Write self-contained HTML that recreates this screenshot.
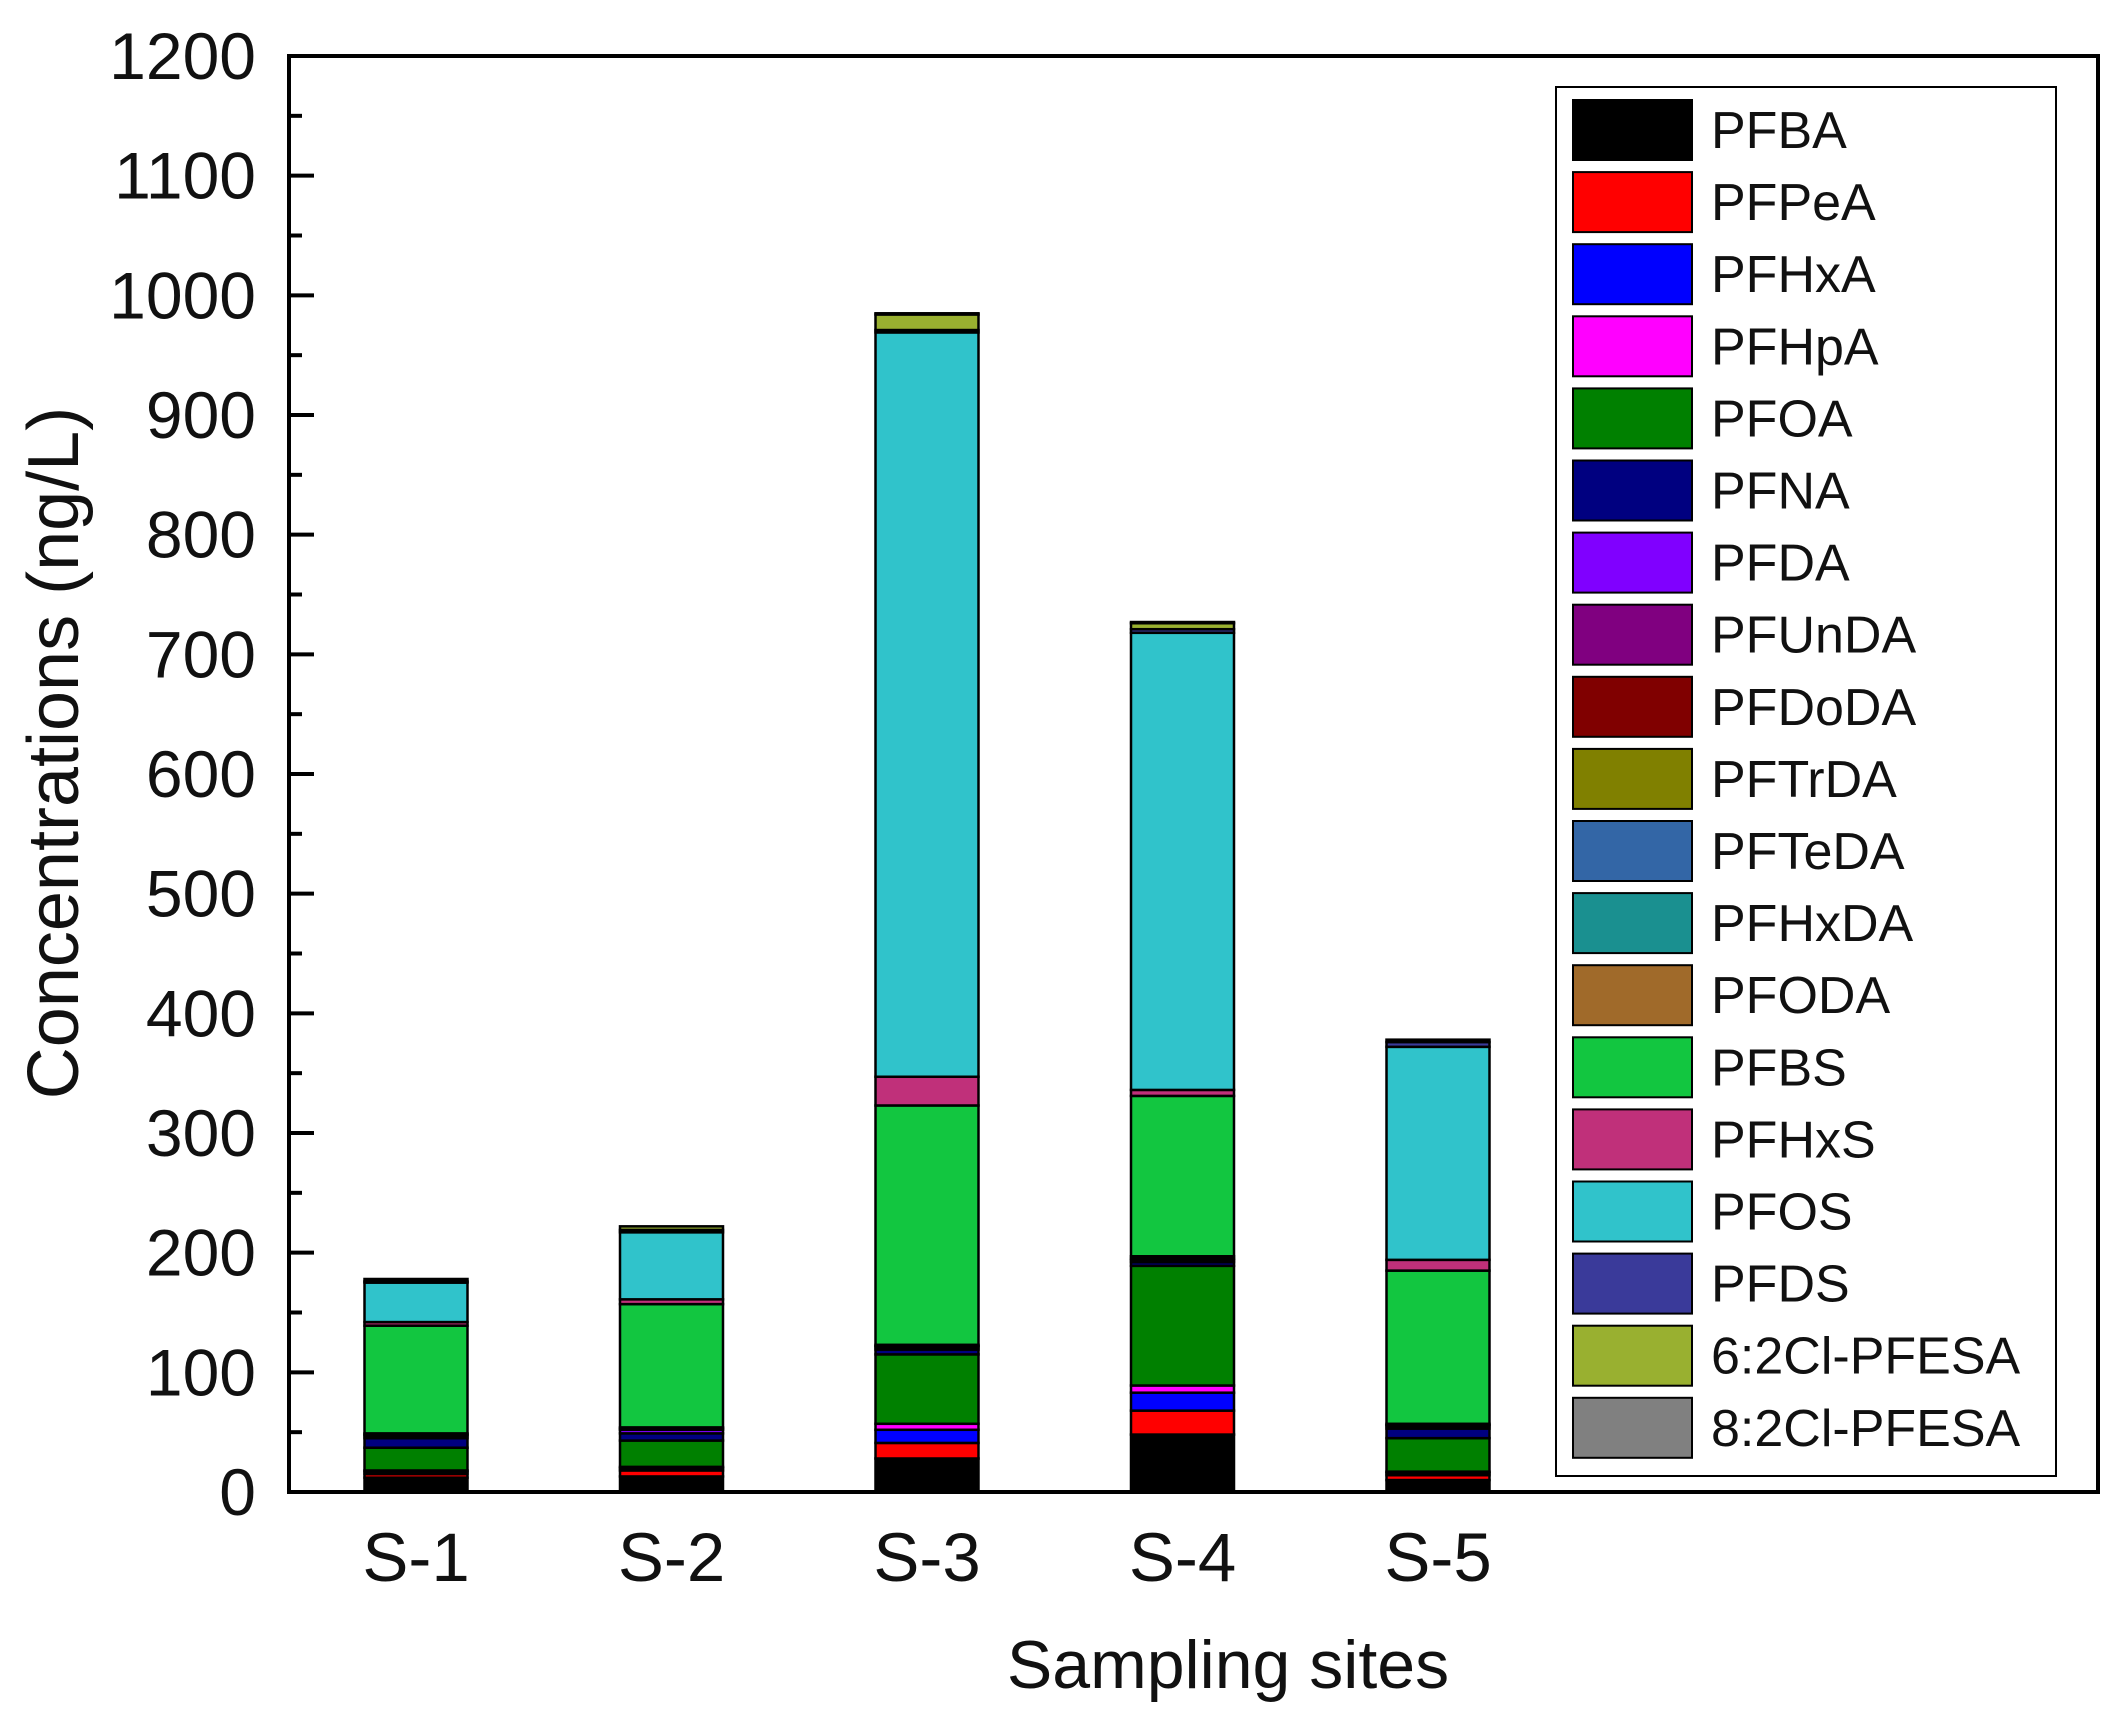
<!DOCTYPE html>
<html><head><meta charset="utf-8"><style>
html,body{margin:0;padding:0;background:#fff;}
svg{display:block;font-family:"Liberation Sans",Arial,sans-serif;}
</style></head><body>
<svg id="chart" width="2104" height="1731" viewBox="0 0 2104 1731" xmlns="http://www.w3.org/2000/svg">
<g id="plot"></g>
<g id="axes"></g>
<g id="legend"></g>
</svg>
<script>
const categories = ["S-1","S-2","S-3","S-4","S-5"];
const seriesNames = ["PFBA","PFPeA","PFHxA","PFHpA","PFOA","PFNA","PFDA","PFUnDA","PFDoDA","PFTrDA","PFTeDA","PFHxDA","PFODA","PFBS","PFHxS","PFOS","PFDS","6:2Cl-PFESA","8:2Cl-PFESA"];
const seriesColors = ["#000000","#ff0000","#0000ff","#ff00ff","#008000","#000080","#8000ff","#800080","#800000","#808000","#3366a6","#1a9090","#a06a2a","#12c640","#c0307a","#30c3cb","#3a3a9a","#99b030","#808080"];
const PFBA   = [12,13,28,48,10];
const PFPeA  = [3,5,13,20,4];
const PFHxA  = [2,2,11,15,2];
const PFHpA  = [1,1,5,6,1];
const PFOA   = [19,22,58,100,28];
const PFNA   = [8,6,4,3,8];
const PFDA   = [2,3,2,2,2];
const PFUnDA = [1,1,1,1,1];
const PFDoDA = [1,1,1,2,1];
const PFTrDA = [0,0,0,0,0];
const PFTeDA = [0,0,0,0,0];
const PFHxDA = [0,0,0,0,0];
const PFODA  = [0,0,0,0,0];
const PFBS   = [90,103,200,134,128];
const PFHxS  = [3,4,24,5,9];
const PFOS   = [33,56,622,382,178];
const PFDS   = [1,2,2,3,4];
const Cl62   = [2,3,13,5,2];
const Cl82   = [0,0,1,1,0];
const seriesValues = [PFBA,PFPeA,PFHxA,PFHpA,PFOA,PFNA,PFDA,PFUnDA,PFDoDA,PFTrDA,PFTeDA,PFHxDA,PFODA,PFBS,PFHxS,PFOS,PFDS,Cl62,Cl82];
const yTicks = [0,100,200,300,400,500,600,700,800,900,1000,1100,1200];

const NS="http://www.w3.org/2000/svg";
const L=289, R=2098, T=56, B=1492, yMax=1200;
const y = v => B - v/yMax*(B-T);
const x0 = 416, step = 255.5, bw = 103;
const xC = i => x0 + i*step;
function mk(tag, attrs, parent){const e=document.createElementNS(NS,tag);for(const k in attrs)e.setAttribute(k,attrs[k]);parent.appendChild(e);return e;}
const plot=document.getElementById('plot'), axes=document.getElementById('axes'), legend=document.getElementById('legend');

categories.forEach((c,i)=>{
  let acc=0;
  seriesValues.forEach((arr,s)=>{
    const v=arr[i]; if(v<=0) return;
    const r=mk('rect',{x:xC(i)-bw/2,y:y(acc+v),width:bw,height:y(acc)-y(acc+v),fill:seriesColors[s],stroke:'#000','stroke-width':2.5},plot);
    
    
    acc+=v;
  });
});

const frame=mk('rect',{x:L,y:T,width:R-L,height:B-T,fill:'none',stroke:'#000','stroke-width':4},axes);


for(let v=0; v<=yMax; v+=50){
  const major = v%100===0;
  const t=mk('line',{x1:L,x2:L+(major?25:13),y1:y(v),y2:y(v),stroke:'#000','stroke-width':4},axes);
  
  
}
yTicks.forEach(v=>{
  const t=mk('text',{x:256,y:y(v)+23,'text-anchor':'end','font-size':66,fill:'#111'},axes);
  t.textContent=v;
  
  
});
categories.forEach((c,i)=>{
  const t=mk('text',{x:xC(i),y:1581,'text-anchor':'middle','font-size':69,fill:'#111'},axes);
  t.textContent=c;
  
  
});
const xt=mk('text',{x:1228,y:1688,'text-anchor':'middle','font-size':68,fill:'#111'},axes);
xt.textContent='Sampling sites';


const yt=mk('text',{x:0,y:0,'text-anchor':'middle','font-size':72,fill:'#111',transform:'translate(78,753) rotate(-90)'},axes);
yt.textContent='Concentrations (ng/L)';



const lb=mk('rect',{x:1556,y:87,width:500,height:1389,fill:'#fff',stroke:'#000','stroke-width':2},legend);


seriesNames.forEach((n,s)=>{
  const g=mk('g',{},legend);
  
  
  const ty=100+s*72.1;
  mk('rect',{x:1573,y:ty,width:119,height:60,fill:seriesColors[s],stroke:'#000','stroke-width':2},g);
  const t=mk('text',{x:1711,y:ty+48,'font-size':52,fill:'#111'},g);
  t.textContent=n;
});
</script>
</body></html>
